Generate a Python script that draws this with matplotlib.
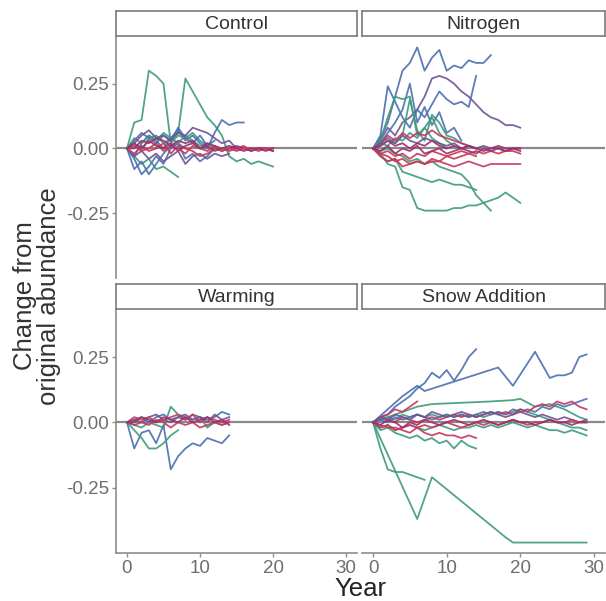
import matplotlib.pyplot as plt

plt.rcParams['font.family'] = ['Liberation Sans', 'DejaVu Sans']

BLUE = '#4a6fb0'
GREEN = '#3d9a7c'
PURPLE = '#6f5394'
RED = '#c8375a'
MAGENTA = '#9c2f6e'

# ---- Control ----
ctrl_green_spike = [0, 0.10, 0.11, 0.30, 0.28, 0.25, 0.02, 0.05, 0.04, 0.06, 0.03, 0.01]
ctrl_green_spike2 = [0, 0.02, -0.01, 0.04, 0.05, 0.02, 0.04, 0.06, 0.27, 0.22, 0.17, 0.12,
                     0.09, 0.05, -0.03, -0.05, -0.04, -0.06, -0.05, -0.06, -0.07]
ctrl_green_neg = [0, -0.03, -0.06, -0.04, -0.08, -0.07, -0.09, -0.11]
ctrl_green_small = [0, 0.04, 0.02, 0.05, 0.03, 0.06, 0.04, 0.02, 0.05, 0.03, 0.01, 0.02, 0.0]
ctrl_blue_up = [0, -0.03, 0.02, 0.05, 0.03, 0.0, 0.04, 0.07, 0.03, 0.05, 0.02, 0.0, 0.06,
                0.11, 0.09, 0.10, 0.10]
ctrl_blue_neg_a = [0, -0.08, -0.05, -0.10, -0.06, -0.02, 0.01, 0.02, 0.0]
ctrl_blue_neg_b = [0, -0.04, -0.10, -0.07, -0.03, -0.06, 0.0, 0.02, -0.04, -0.02, -0.05, -0.03, 0.0]
ctrl_blue_small = [0, 0.03, 0.06, 0.04, 0.02, 0.05, 0.03, 0.08, 0.04, 0.02, 0.05, 0.01, 0.03]
ctrl_purple_up = [0, 0.02, 0.05, 0.07, 0.04, 0.05, 0.03, 0.06, 0.05, 0.08, 0.07, 0.06, 0.04,
                  0.02, 0.03, 0.0]
ctrl_purple_neg = [0, -0.03, -0.01, -0.04, -0.02, -0.05, -0.03, -0.01, -0.06, -0.03, -0.02,
                   -0.04, -0.02, -0.03, -0.02]
ctrl_red_a = [0, 0.01, -0.01, 0.0, 0.02, -0.01, 0.01, 0.0, -0.02, 0.01, 0.0, -0.01, 0.01, 0.0,
              -0.01, 0.0, 0.01, -0.01, 0.0, 0.0, -0.01]
ctrl_red_b = [0, -0.02, 0.01, -0.01, 0.0, 0.02, -0.02, 0.01, 0.0, -0.01, -0.03, -0.02, 0.0,
              -0.01, 0.0, -0.01, 0.0, 0.0, -0.01, 0.0, 0.0]
ctrl_mag_a = [0, 0.02, 0.0, 0.03, 0.01, 0.0, 0.02, -0.01, 0.01, 0.02, 0.0, 0.01, -0.01, 0.0,
              0.01, 0.0, -0.01, 0.0, 0.0, -0.01, 0.0]
ctrl_mag_b = [0, 0.0, 0.03, 0.02, 0.04, 0.03, 0.01, 0.03, 0.02, 0.03, 0.0, 0.02, 0.01, -0.01,
              0.0, 0.01, 0.0, -0.01, 0.0, 0.0, -0.01]

# ---- Nitrogen ----
n_blue_top = [0, 0.04, 0.10, 0.20, 0.30, 0.33, 0.39, 0.30, 0.35, 0.38, 0.30, 0.32, 0.31,
              0.34, 0.33, 0.33, 0.36]
n_purple_long = [0, 0.03, 0.08, 0.05, 0.10, 0.12, 0.15, 0.20, 0.27, 0.28, 0.27, 0.25, 0.22,
                 0.20, 0.17, 0.14, 0.12, 0.11, 0.09, 0.09, 0.08]
n_blue_jump = [0, 0.05, 0.24, 0.18, 0.12, 0.08, 0.15, 0.12, 0.17, 0.22, 0.19, 0.17, 0.18,
               0.16, 0.28]
n_blue_b = [0, 0.02, 0.06, 0.10, 0.15, 0.25, 0.10, 0.16, 0.09, 0.14, 0.06, 0.08, 0.03]
n_green_a = [0, 0.03, 0.12, 0.20, 0.19, 0.20, 0.05, 0.08, 0.04, 0.02, 0.0]
n_green_b = [0, 0.01, 0.03, 0.02, 0.05, 0.19, 0.07, 0.03, 0.13, 0.10, 0.05, 0.04, 0.02, 0.01, 0.0]
n_green_c = [0, 0.02, 0.01, 0.04, 0.03, 0.06, 0.04, 0.08, 0.12, 0.06, 0.03, 0.01]
n_green_deep = [0, -0.02, -0.06, -0.07, -0.15, -0.16, -0.23, -0.24, -0.24, -0.24, -0.24,
                -0.23, -0.23, -0.22, -0.22, -0.21, -0.20, -0.19, -0.17, -0.19, -0.21]
n_green_mid = [0, -0.03, -0.05, -0.04, -0.09, -0.10, -0.11, -0.12, -0.13, -0.12, -0.13,
               -0.14, -0.14, -0.15, -0.16]
n_green_slide = [0, -0.01, 0.0, -0.02, -0.03, -0.05, -0.04, -0.06, -0.05, -0.07, -0.08,
                 -0.09, -0.10, -0.13, -0.18, -0.21, -0.24]
n_red_up = [0, 0.02, 0.05, 0.03, 0.06, 0.04, 0.06, 0.05, 0.07, 0.05, 0.04, 0.03, 0.02, 0.01, 0.0]
n_red_neg = [0, -0.02, -0.03, -0.05, -0.04, -0.06, -0.05, -0.06, -0.05, -0.05, -0.06, -0.07,
             -0.06, -0.05, -0.06, -0.07, -0.06, -0.06, -0.06, -0.06, -0.06]
n_red_neg_b = [0, -0.03, -0.05, -0.04, -0.07, -0.06, -0.05, -0.06, -0.04, -0.05, -0.03, -0.04,
               -0.03, -0.02, -0.03]
n_mag_a = [0, -0.01, 0.01, -0.02, 0.0, -0.01, 0.01, -0.02, -0.01, 0.0, -0.02, -0.01, 0.0,
           -0.01, -0.02, 0.0, -0.01, 0.0, -0.01, 0.0, -0.01]
n_mag_b = [0, 0.01, 0.03, 0.01, 0.02, 0.0, 0.02, 0.01, 0.03, 0.01, 0.0, 0.01, 0.0, 0.01, 0.0,
           -0.01, 0.0, 0.01, 0.0, 0.0, 0.0]
n_red_a = [0, -0.02, -0.01, -0.03, -0.02, -0.04, -0.02, -0.03, -0.01, -0.02, -0.03, -0.02,
           -0.01, -0.02, -0.01, -0.02, -0.01, -0.02, -0.01, -0.01, -0.02]
n_purple_a = [0, 0.02, 0.04, 0.02, 0.05, 0.03, 0.02, 0.04, 0.03, 0.02, 0.01, 0.02, 0.0, 0.01,
              0.0, 0.01, 0.0, 0.0, -0.01, 0.0, 0.0]

# ---- Warming ----
w_blue = [0, -0.10, -0.04, -0.03, -0.08, -0.01, -0.18, -0.13, -0.10, -0.08, -0.09, -0.06,
          -0.07, -0.08, -0.05]
w_green_a = [0, -0.03, -0.06, -0.10, -0.10, -0.08, -0.05, -0.03]
w_green_b = [0, -0.01, -0.02, 0.0, -0.01, -0.02, 0.06, 0.03, 0.02, 0.01, 0.02, -0.02, 0.0,
             -0.01, 0.0]
w_blue_b = [0, 0.01, 0.02, 0.0, 0.02, 0.03, 0.01, 0.02, 0.01, 0.03, 0.02, 0.01, 0.02, 0.04, 0.03]
w_purple_a = [0, 0.01, 0.0, 0.02, 0.03, 0.01, 0.0, 0.02, 0.03, 0.01, 0.02, 0.0, 0.03, 0.01, 0.02]
w_red_a = [0, 0.02, 0.01, 0.02, 0.0, 0.01, 0.02, 0.03, 0.01, 0.03, 0.0, 0.02, 0.01, 0.0, 0.01]
w_red_b = [0, -0.01, 0.0, -0.01, 0.01, 0.0, -0.02, 0.0, -0.01, 0.0, -0.02, -0.01, 0.0, -0.01, 0.0]
w_mag_a = [0, 0.0, 0.02, 0.01, 0.0, 0.02, 0.01, 0.0, 0.02, 0.0, 0.01, 0.02, 0.0, 0.01, -0.01]

# ---- Snow Addition ----
s_blue_a = [0, 0.02, 0.03, 0.06, 0.08, 0.10, 0.13, 0.15, 0.19, 0.17, 0.20, 0.16, 0.20, 0.25, 0.28]
s_blue_long_yr = [0, 2, 4, 6, 7, 17, 19, 22, 24, 25, 26, 27, 28, 29]
s_blue_long = [0, 0.05, 0.10, 0.14, 0.12, 0.21, 0.14, 0.27, 0.17, 0.18, 0.18, 0.19, 0.25, 0.26]
s_green_deep_yr = [0, 6, 8, 18, 19, 29]
s_green_deep = [0, -0.37, -0.21, -0.44, -0.46, -0.46]
s_green_b = [0, -0.10, -0.18, -0.19, -0.19, -0.20, -0.21, -0.22]
s_green_c = [0, -0.03, -0.02, -0.04, -0.05, -0.06, -0.05, -0.07, -0.06, -0.08, -0.07, -0.10,
             -0.07, -0.09, -0.10]
s_red_neg = [0, -0.01, -0.02, -0.02, -0.03, -0.04, -0.02, -0.04, -0.05, -0.04, -0.05, -0.05,
             -0.06, -0.05, -0.06]
s_green_up_yr = [0, 2, 4, 6, 8, 12, 16, 19, 20, 22, 24, 26, 28, 29]
s_green_up = [0, 0.02, 0.04, 0.06, 0.07, 0.075, 0.08, 0.085, 0.09, 0.06, 0.07, 0.05, 0.02, 0.01]
s_green_long = [0, -0.02, -0.01, -0.03, -0.02, -0.01, -0.02, -0.03, -0.02, -0.01, -0.02,
                -0.03, -0.02, -0.02, -0.01, -0.02, -0.01, -0.02, -0.01, 0.0, -0.01, -0.02,
                -0.01, -0.02, -0.03, -0.03, -0.04, -0.03, -0.04, -0.05]
s_blue_end = [0, 0.01, 0.0, 0.02, 0.01, 0.02, 0.03, 0.02, 0.01, 0.02, 0.03, 0.02, 0.03, 0.02,
              0.03, 0.04, 0.03, 0.04, 0.03, 0.05, 0.04, 0.05, 0.04, 0.06, 0.05, 0.07, 0.06,
              0.07, 0.08, 0.09]
s_red_end = [0, 0.02, 0.01, 0.0, 0.02, 0.01, 0.0, 0.01, 0.02, 0.01, 0.02, 0.03, 0.02, 0.03,
             0.02, 0.03, 0.04, 0.03, 0.04, 0.03, 0.05, 0.04, 0.06, 0.07, 0.06, 0.08, 0.07,
             0.08, 0.06, 0.05]
s_red_short = [0, 0.02, 0.03, 0.05, 0.04, 0.06, 0.08]
s_mag_a = [0, -0.01, 0.01, 0.0, -0.02, 0.0, -0.01, 0.01, 0.0, -0.01, 0.0, 0.01, 0.0, -0.01,
           0.0, 0.01, 0.0, -0.01, 0.0, 0.01, 0.0, 0.0, -0.01, 0.0, 0.01, 0.0, 0.0, -0.01, 0.0, 0.0]
s_purple_a = [0, 0.02, 0.01, 0.03, 0.02, 0.01, 0.03, 0.02, 0.04, 0.03, 0.02, 0.03, 0.04, 0.03,
              0.02, 0.03, 0.04, 0.03, 0.02, 0.03, 0.04, 0.03, 0.02, 0.03, 0.02, 0.01, 0.02,
              0.01, 0.0, 0.01]
s_red_c = [0, -0.02, -0.01, -0.03, -0.02, -0.01, -0.02, -0.01, -0.02, -0.01, 0.0, -0.01,
           -0.02, -0.01, 0.0, -0.01, 0.0, -0.01, 0.0, 0.01, 0.0, -0.01, 0.0, 0.0, 0.01, 0.0,
           0.0, 0.01, 0.0, 0.0]
s_green_mid = [0, 0.01, 0.02, 0.01, 0.03, 0.02, 0.03, 0.02, 0.03, 0.02, 0.03, 0.02, 0.03, 0.02,
               0.03, 0.02, 0.03, 0.04, 0.03, 0.04, 0.05, 0.04, 0.03, 0.02, 0.01, 0.0, -0.01,
               -0.02, -0.02, -0.03]


def yrs(v):
    return list(range(len(v)))


panels = [
    ('Control', [
        (ctrl_green_spike, GREEN), (ctrl_green_spike2, GREEN), (ctrl_green_neg, GREEN),
        (ctrl_blue_up, BLUE), (ctrl_blue_neg_a, BLUE), (ctrl_blue_neg_b, BLUE),
        (ctrl_green_small, GREEN), (ctrl_blue_small, BLUE), (ctrl_purple_up, PURPLE),
        (ctrl_purple_neg, PURPLE), (ctrl_red_a, RED), (ctrl_mag_b, MAGENTA),
        (ctrl_red_b, RED), (ctrl_mag_a, MAGENTA)]),
    ('Nitrogen', [
        (n_blue_top, BLUE), (n_purple_long, PURPLE), (n_blue_jump, BLUE), (n_blue_b, BLUE),
        (n_green_a, GREEN), (n_green_b, GREEN), (n_green_c, GREEN), (n_green_deep, GREEN),
        (n_green_mid, GREEN), (n_green_slide, GREEN), (n_red_up, RED), (n_red_neg, RED),
        (n_red_neg_b, RED), (n_purple_a, PURPLE), (n_red_a, RED), (n_mag_b, MAGENTA),
        (n_mag_a, MAGENTA)]),
    ('Warming', [
        (w_blue, BLUE), (w_green_a, GREEN), (w_green_b, GREEN), (w_blue_b, BLUE),
        (w_purple_a, PURPLE), (w_red_a, RED), (w_red_b, RED), (w_mag_a, MAGENTA)]),
    ('Snow Addition', [
        ((s_blue_long_yr, s_blue_long), BLUE), (s_blue_a, BLUE),
        ((s_green_deep_yr, s_green_deep), GREEN), (s_green_b, GREEN), (s_green_c, GREEN),
        ((s_green_up_yr, s_green_up), GREEN), (s_green_long, GREEN), (s_green_mid, GREEN),
        (s_blue_end, BLUE), (s_red_end, RED), (s_red_short, RED), (s_red_neg, RED),
        (s_purple_a, PURPLE), (s_red_c, RED), (s_mag_a, MAGENTA)]),
]

fig = plt.figure(figsize=(6.06, 6.01), dpi=100)
W, H = 606, 601
boxes = [(116, 37, 241, 241), (362, 37, 243, 241), (116, 310, 241, 243), (362, 310, 243, 243)]
axis_col = '#8c8c8c'
tick_col = '#6e6e6e'

for i, ((title, series), (x0, y0, w, h)) in enumerate(zip(panels, boxes)):
    ax = fig.add_axes([x0 / W, 1 - (y0 + h) / H, w / W, h / H])
    ax.axhline(0, color='#8a8a8a', lw=1.6, zorder=1)
    for s, col in series:
        if isinstance(s, tuple):
            xs, ys = s
        else:
            xs, ys = yrs(s), s
        ax.plot(xs, ys, color=col, lw=1.3, alpha=0.9, zorder=2)
    ax.set_xlim(-1.5, 31.5)
    ax.set_ylim(-0.5, 0.43)
    for sp in ax.spines.values():
        sp.set_visible(False)
    left = i % 2 == 0
    bottom = i >= 2
    if left:
        ax.spines['left'].set_visible(True)
        ax.spines['left'].set_color(axis_col)
        ax.spines['left'].set_linewidth(1.2)
        ax.set_yticks([-0.25, 0.0, 0.25])
        ax.set_yticklabels(['-0.25', '0.00', '0.25'])
    else:
        ax.set_yticks([])
    if bottom:
        ax.spines['bottom'].set_visible(True)
        ax.spines['bottom'].set_color(axis_col)
        ax.spines['bottom'].set_linewidth(1.2)
        ax.set_xticks([0, 10, 20, 30])
    else:
        ax.set_xticks([])
    ax.tick_params(colors=axis_col, labelcolor=tick_col, labelsize=13.5, length=3, width=1,
                   pad=2)

    # facet strip
    sax = fig.add_axes([x0 / W, 1 - (y0 - 1) / H, w / W, 25 / H])
    sax.set_xticks([])
    sax.set_yticks([])
    for sp in sax.spines.values():
        sp.set_color('#7a7a7a')
        sp.set_linewidth(1.2)
    sax.text(0.5, 0.45, title, ha='center', va='center', fontsize=14, color='#333333',
             transform=sax.transAxes)

fig.text(360 / W, 0.5 / H, 'Year', ha='center', va='bottom', fontsize=18.5, color='#222222')
fig.text(37 / W, 1 - 296 / H, 'Change from\noriginal abundance', ha='center', va='center',
         rotation=90, fontsize=18.5, color='#333333', linespacing=0.95)

fig.savefig('out.png', dpi=100)
